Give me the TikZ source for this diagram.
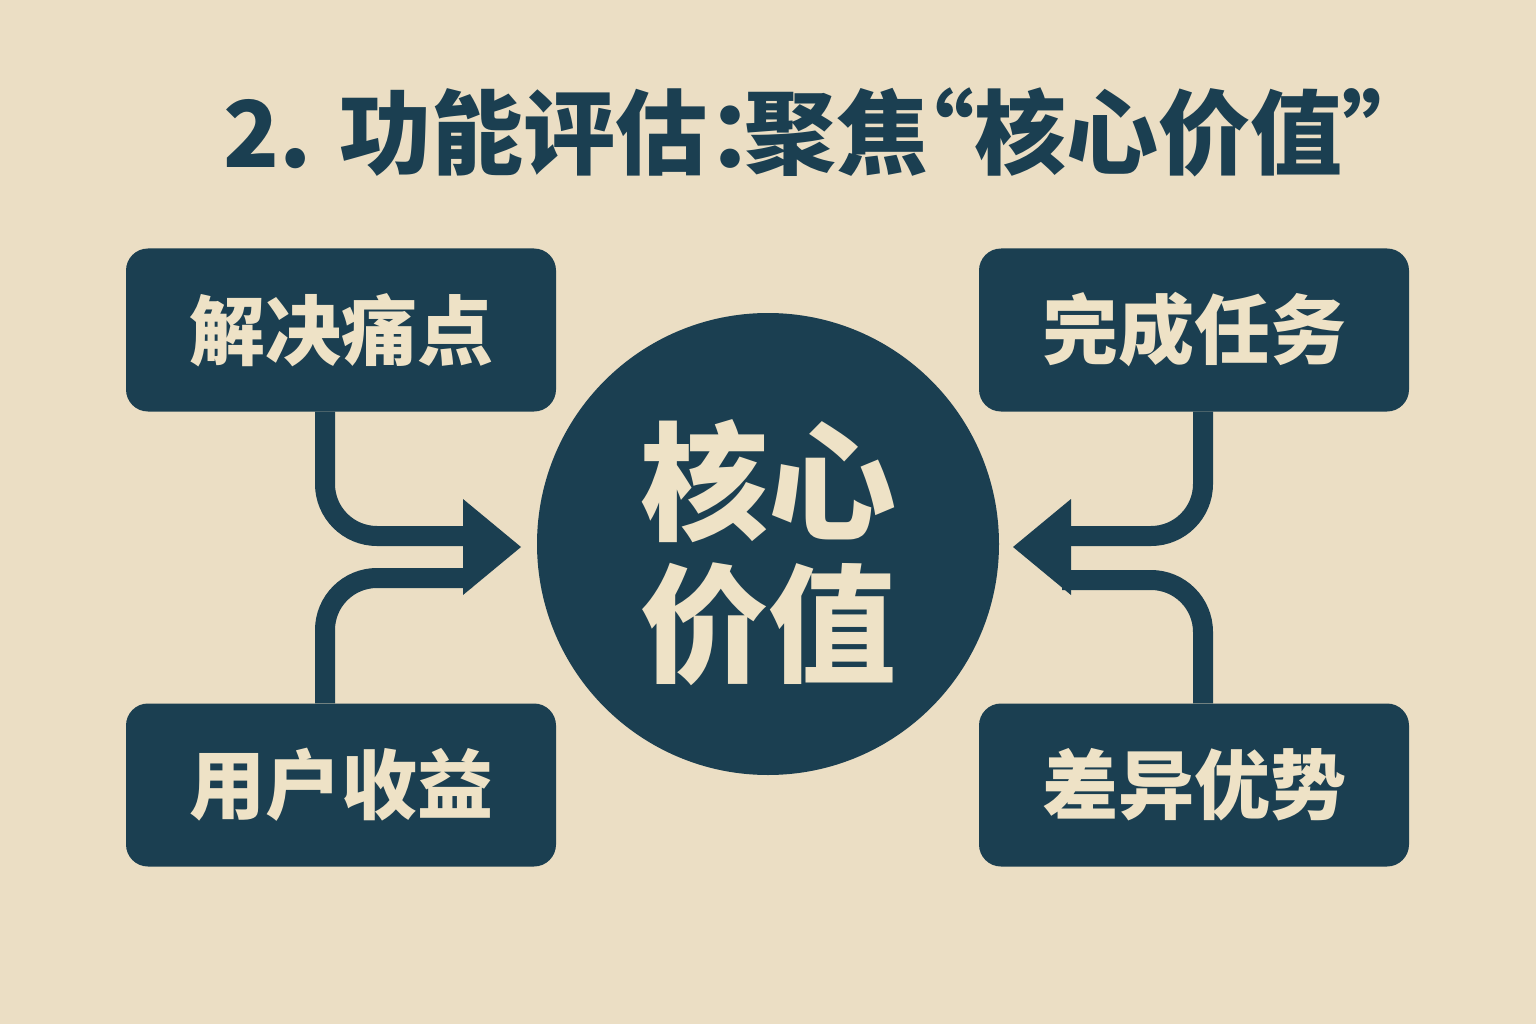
\documentclass[tikz,border=0pt]{standalone}
\usepackage{fontspec}
\setmainfont{Noto Sans CJK SC}
\usetikzlibrary{positioning}

\definecolor{paper}{HTML}{EBDEC4}
\definecolor{ink}{HTML}{1B3F51}
\definecolor{cream}{HTML}{EEE2C6}

\tikzset{
	valuebox/.style={fill=ink, text=cream, rounded corners=22pt, minimum width=430pt, minimum height=163pt, inner sep=0pt, font=\fontsize{76}{80}\selectfont\bfseries},
	corecircle/.style={circle, fill=ink, text=cream, minimum size=462pt, inner sep=0pt, align=center, font=\fontsize{128}{142}\selectfont\bfseries},
	link/.style={draw=ink, line width=20pt, rounded corners=52pt},
	headfill/.style={fill=ink}
}

\begin{document}
\begin{tikzpicture}[x=1pt, y=-1pt]

		\pgfmathsetmacro{\headlength}{58}
		\pgfmathsetmacro{\headhalf}{48}

		% background
		\fill[paper] (0,0) rectangle (1536,1024);
		\useasboundingbox (0,0) rectangle (1536,1024);

		% title
		\node[text=ink, anchor=base west, inner sep=0pt, font=\fontsize{92}{96}\selectfont\bfseries] (title) at (223,168) {2. 功能评估：\hspace{-0.6em}聚焦\hspace{-0.5em}“核心价值”};

		% draw the four boxes and the circle
		\node[valuebox] (pain) at (341,330) {解决痛点};
		\node[valuebox] (gain) at (341,785) {用户收益};
		\node[valuebox] (task) at (1194,330) {完成任务};
		\node[valuebox] (edge) at (1194,785) {差异优势};
		\node[corecircle] (core) at (768,544) {\rule{0pt}{129pt}核心\\价值};

		% ends of the shafts and tips of the heads
		\coordinate (inPain) at (472,536);
		\coordinate (inGain) at (472,578);
		\coordinate (inTask) at (1062,536);
		\coordinate (inEdge) at (1062,580);
		\coordinate (tipLeft) at (521,547);
		\coordinate (tipRight) at (1013,547);

		% draw left shafts
		\draw[link] ([xshift=-16pt]pain.south) |- (inPain);
		\draw[link] ([xshift=-16pt]gain.north) |- (inGain);

		% draw right shafts
		\draw[link] ([xshift=9pt]task.south) |- (inTask);
		\draw[link] ([xshift=9pt]edge.north) |- (inEdge);

		% draw heads
		\fill[headfill] (tipLeft) -- ++(-\headlength, -\headhalf) -- ++(0, 2 * \headhalf) -- cycle; % head right
		\fill[headfill] (tipRight) -- ++(\headlength, -\headhalf) -- ++(0, 2 * \headhalf) -- cycle; % head left

\end{tikzpicture}
\end{document}
